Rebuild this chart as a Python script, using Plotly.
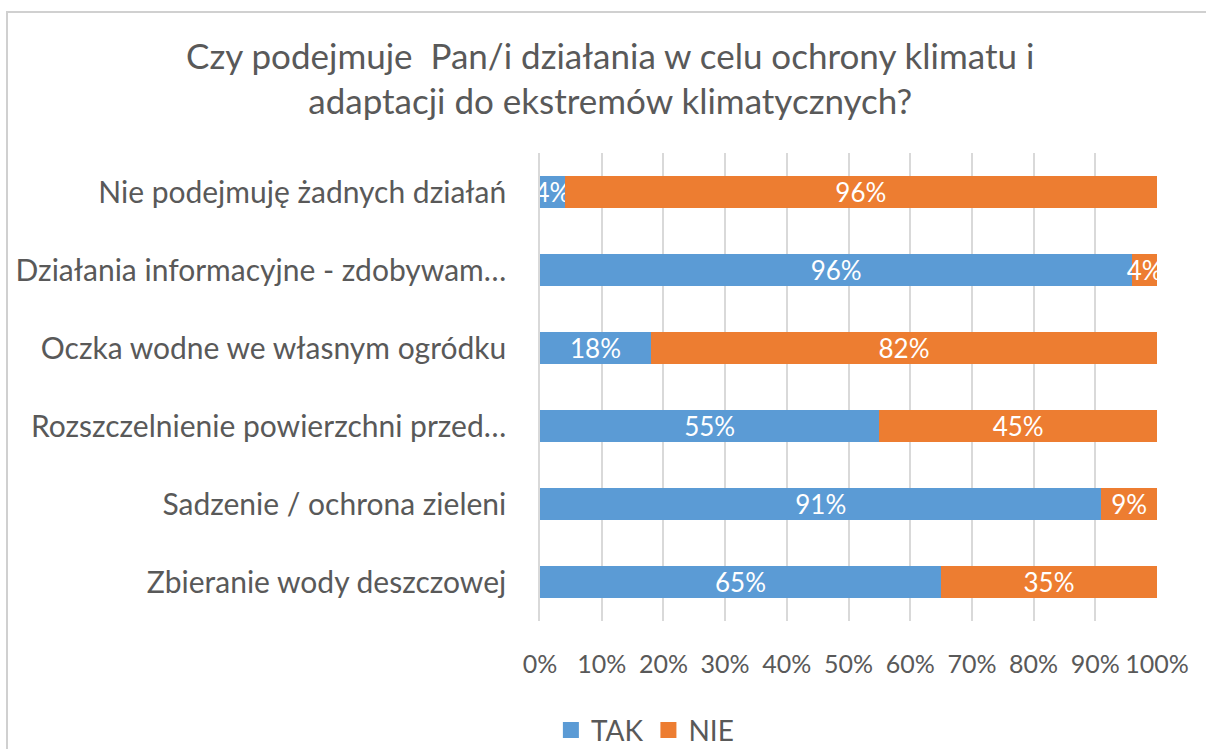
import plotly.graph_objects as go

categories = [
    "Nie podejmuję żadnych działań",
    "Działania informacyjne - zdobywam…",
    "Oczka wodne we własnym ogródku",
    "Rozszczelnienie powierzchni przed…",
    "Sadzenie / ochrona zieleni",
    "Zbieranie wody deszczowej",
]
tak = [4, 96, 18, 55, 91, 65]
nie = [96, 4, 82, 45, 9, 35]
x_ticks = [0, 10, 20, 30, 40, 50, 60, 70, 80, 90, 100]
x_tick_labels = [f"{v}%" for v in x_ticks]
series_names = ["TAK", "NIE"]
series_colors = ["#5B9BD5", "#ED7D31"]

FONT = "Lato"
GREY = "#595959"

fig = go.Figure()
for name, vals, color in zip(series_names, [tak, nie], series_colors):
    fig.add_trace(go.Bar(
        y=categories, x=vals, name=name, orientation="h",
        marker=dict(color=color, line=dict(width=0)),
        text=[f"{v}%" for v in vals], textposition="inside", textangle=0,
        insidetextanchor="middle", constraintext="none",
        textfont=dict(color="white", size=26, family=FONT),
        showlegend=False,
    ))
# legend entries with larger square swatches
for name, color in zip(series_names, series_colors):
    fig.add_trace(go.Scatter(
        x=[None], y=[None], mode="markers", name=name,
        marker=dict(symbol="square", size=17, color=color),
        showlegend=True,
    ))

fig.update_layout(
    width=1206, height=749,
    barmode="stack", bargap=0.59,
    plot_bgcolor="white", paper_bgcolor="white",
    margin=dict(l=540, r=49, t=153, b=128, autoexpand=False),
    font=dict(family=FONT, color=GREY),
    title=dict(
        text="Czy podejmuje  Pan/i działania w celu ochrony klimatu i<br>adaptacji do ekstremów klimatycznych?",
        x=0.506, xanchor="center", y=0.908, yanchor="middle",
        font=dict(size=35, family=FONT, color=GREY),
    ),
    xaxis=dict(
        range=[0, 100], tickvals=x_ticks, ticktext=x_tick_labels,
        showgrid=True, gridcolor="#D9D9D9", gridwidth=1.5,
        zeroline=False, showline=False, automargin=False,
        tickfont=dict(size=25, family=FONT, color=GREY),
        ticklabelstandoff=26, fixedrange=True,
    ),
    yaxis=dict(
        autorange="reversed", showgrid=False, automargin=False,
        showline=True, linecolor="#D9D9D9", linewidth=1.5,
        tickfont=dict(size=30, family=FONT, color=GREY),
        ticklabelstandoff=26, ticks="",
    ),
    legend=dict(
        orientation="h", x=0.17, xanchor="center", y=-0.18, yanchor="top",
        font=dict(size=28, family=FONT, color=GREY),
        traceorder="normal", bgcolor="rgba(0,0,0,0)",
        itemsizing="trace", itemwidth=30,
    ),
    shapes=[dict(
        type="rect", xref="paper", yref="paper",
        x0=(7 - 540) / 617, x1=(1215 - 540) / 617,
        y0=(621 - 760) / 468, y1=(621 - 12) / 468,
        line=dict(color="#D0D0D0", width=2), layer="below",
    )],
)

fig.write_html("out.html", config={"displayModeBar": False},
               post_script="document.body.style.margin='0';")
